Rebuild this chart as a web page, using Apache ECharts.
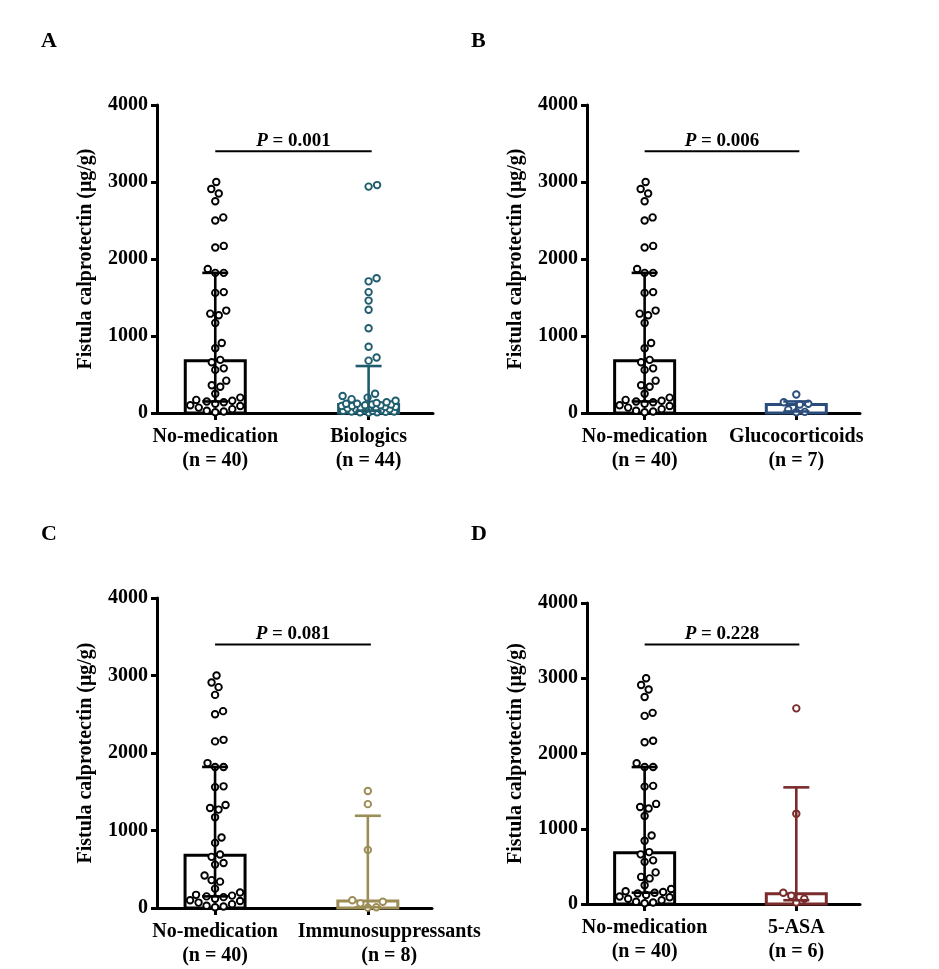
<!DOCTYPE html>
<html>
<head>
<meta charset="utf-8">
<script src="https://cdn.jsdelivr.net/npm/echarts@6.0.0/dist/echarts.min.js"></script>
<style>
  html, body { margin: 0; padding: 0; background: #fff; }
  #chart { width: 939px; height: 969px; }
</style>
</head>
<body>
<div id="chart"></div>
<script>
// fistula calprotectin values (µg/g)
var noMedication = [3000, 2910, 2850, 2750, 2540, 2500, 2170, 2150, 1870, 1820,
  1820, 1570, 1560, 1330, 1290, 1270, 1170, 910, 840, 690,
  660, 580, 560, 420, 360, 340, 250, 200, 170, 160,
  150, 140, 120, 100, 90, 70, 50, 30, 20, 10];
var biologics = [2960, 2940, 1750, 1710, 1570, 1460, 1340, 1100, 860, 720, 680,
  250, 220, 200, 180, 160, 140, 130, 120, 120, 110, 110, 100, 100, 90, 90,
  80, 80, 70, 70, 60, 60, 50, 50, 40, 40, 30, 30, 20, 20, 15, 10, 10, 5];
var glucocorticoids = [240, 140, 120, 110, 45, 15, 10];
var immunosuppressants = [1510, 1340, 750, 100, 80, 60, 10, 5];
var asa5 = [2600, 1200, 150, 110, 70, 20];

// bar = median, whisker = interquartile range  [median, q1, q3]
var noMedSummary = [680, 150, 1820];
var biologicsSummary = [110, 30, 610];
var glucoSummary = [110, 20, 150];
var immunoSummary = [90, 10, 1190];
var asaSummary = [135, 50, 1550];

var pValues = ['0.001', '0.006', '0.081', '0.228'];
var pLineY = [3400, 3400, 3400, 3450];
var yMax = 4000;

var FONT = '"Liberation Serif", "Times New Roman", serif';

var panels = [
  { letter: 'A', grid: { left: 157, top: 105, width: 276, height: 308 }, labelAt: [1, 2],
    groups: [['No-medication', noMedication, noMedSummary, '#000000'],
             ['Biologics', biologics, biologicsSummary, '#1f5d6e']] },
  { letter: 'B', grid: { left: 587, top: 105, width: 273, height: 308 }, labelAt: [1, 2],
    groups: [['No-medication', noMedication, noMedSummary, '#000000'],
             ['Glucocorticoids', glucocorticoids, glucoSummary, '#2b4d7c']] },
  // the long "Immunosuppressants" label is pushed right in the original
  { letter: 'C', grid: { left: 157, top: 598, width: 275, height: 310 }, labelAt: [1, 2.14],
    groups: [['No-medication', noMedication, noMedSummary, '#000000'],
             ['Immunosuppressants', immunosuppressants, immunoSummary, '#9c8c55']] },
  { letter: 'D', grid: { left: 587, top: 603, width: 273, height: 301 }, labelAt: [1, 2],
    groups: [['No-medication', noMedication, noMedSummary, '#000000'],
             ['5-ASA', asa5, asaSummary, '#7a2b2b']] }
];

var X_MIN = 0.62, X_MAX = 2.42;

// beeswarm: each point takes the free spot nearest the centre,
// inside the column width; if none is free, the least crowded spot
function swarm(values, center, pxPerX, pxPerY, d, maxHalf) {
  var order = values.map(function (v, i) { return i; })
    .sort(function (a, b) { return values[a] - values[b]; });
  var cands = [0];
  for (var s = 0.5; s <= maxHalf; s += 0.5) cands.push(s, -s);
  var placed = [];
  var out = [];
  order.forEach(function (i) {
    var y = values[i] * pxPerY;
    var best = null, fallback = 0, bestGap = -1;
    for (var k = 0; k < cands.length; k++) {
      var c = cands[k];
      var gap = Infinity;
      placed.forEach(function (p) {
        var dx = p.x - c, dy = p.y - y;
        gap = Math.min(gap, Math.sqrt(dx * dx + dy * dy));
      });
      if (gap >= d) { best = c; break; }
      if (gap > bestGap + 0.01) { bestGap = gap; fallback = c; }
    }
    if (best === null) best = fallback;
    placed.push({ x: best, y: y });
    out.push([center + best / pxPerX, values[i]]);
  });
  return out;
}

var grids = [], xAxes = [], yAxes = [], series = [], titles = [];

panels.forEach(function (pn, pi) {
  grids.push(pn.grid);
  var pxPerX = pn.grid.width / (X_MAX - X_MIN);
  var pxPerY = pn.grid.height / yMax;
  var colors = pn.groups.map(function (g) { return g[3]; });

  xAxes.push({
    type: 'value', gridIndex: pi, min: X_MIN, max: X_MAX,
    splitLine: { show: false },
    axisLine: { show: true, lineStyle: { color: '#000', width: 3 } },
    axisTick: { show: true, customValues: [1, 2], length: 7, lineStyle: { color: '#000', width: 3 } },
    axisLabel: {
      customValues: pn.labelAt, margin: 12, hideOverlap: false,
      formatter: function (v) {
        var g = pn.groups[v < 1.5 ? 0 : 1];
        return g[0] + '\n(n = ' + g[1].length + ')';
      },
      color: '#000', fontFamily: FONT, fontWeight: 'bold', fontSize: 20, lineHeight: 24
    }
  });

  yAxes.push({
    type: 'value', gridIndex: pi, min: 0, max: yMax, interval: 1000,
    name: 'Fistula calprotectin (μg/g)', nameLocation: 'middle', nameRotate: 90, nameGap: 61,
    nameTextStyle: { color: '#000', fontFamily: FONT, fontWeight: 'bold', fontSize: 20 },
    splitLine: { show: false },
    axisLine: { show: true, lineStyle: { color: '#000', width: 3 } },
    axisTick: { show: true, length: 6, lineStyle: { color: '#000', width: 3 } },
    axisLabel: {
      color: '#000', fontFamily: FONT, fontWeight: 'bold', fontSize: 20, margin: 9,
      formatter: function (v) { return String(v); }
    }
  });

  // bars (median)
  series.push({
    type: 'custom', xAxisIndex: pi, yAxisIndex: pi, z: 1, clip: false,
    encode: { x: 0, y: [1, 2, 3] },
    data: pn.groups.map(function (g, gi) { return [gi + 1, g[2][0], g[2][1], g[2][2]]; }),
    renderItem: function (params, api) {
      var c = colors[params.dataIndex];
      var base = api.coord([api.value(0), 0]);
      var top = api.coord([api.value(0), api.value(1)]);
      var bw = 60;
      return {
        type: 'rect',
        shape: { x: top[0] - bw / 2, y: top[1], width: bw, height: base[1] - top[1] },
        style: { fill: '#fff', stroke: c, lineWidth: 3 }
      };
    }
  });

  // points
  pn.groups.forEach(function (g, gi) {
    series.push({
      type: 'scatter', xAxisIndex: pi, yAxisIndex: pi, z: 3,
      symbol: 'circle', symbolSize: 6.5,
      itemStyle: { color: '#fff', borderColor: g[3], borderWidth: 1.9, opacity: 1 },
      data: swarm(g[1], gi + 1, pxPerX, pxPerY, 8.4, 27),
      silent: true
    });
  });

  // interquartile whiskers
  series.push({
    type: 'custom', xAxisIndex: pi, yAxisIndex: pi, z: 5, clip: false,
    encode: { x: 0, y: [1, 2, 3] },
    data: pn.groups.map(function (g, gi) { return [gi + 1, g[2][0], g[2][1], g[2][2]]; }),
    renderItem: function (params, api) {
      var c = colors[params.dataIndex];
      var lo = api.coord([api.value(0), api.value(2)]);
      var hi = api.coord([api.value(0), api.value(3)]);
      var cw = 13;
      var ls = { stroke: c, lineWidth: 2.6 };
      return {
        type: 'group',
        children: [
          { type: 'line', shape: { x1: lo[0], y1: lo[1], x2: hi[0], y2: hi[1] }, style: ls },
          { type: 'line', shape: { x1: hi[0] - cw, y1: hi[1], x2: hi[0] + cw, y2: hi[1] }, style: ls },
          { type: 'line', shape: { x1: lo[0] - cw, y1: lo[1], x2: lo[0] + cw, y2: lo[1] }, style: ls }
        ]
      };
    }
  });

  // P-value bracket
  series.push({
    type: 'custom', xAxisIndex: pi, yAxisIndex: pi, z: 6, clip: false,
    encode: { x: [0, 1], y: 2 },
    data: [[1, 2.02, pLineY[pi]]],
    renderItem: function (params, api) {
      var a = api.coord([api.value(0), api.value(2)]);
      var b = api.coord([api.value(1), api.value(2)]);
      return {
        type: 'group',
        children: [
          { type: 'line', shape: { x1: a[0], y1: a[1], x2: b[0], y2: b[1] }, style: { stroke: '#000', lineWidth: 2 } },
          { type: 'text', x: (a[0] + b[0]) / 2, y: a[1] - 1,
            style: {
              text: '{i|P} = ' + pValues[pi],
              align: 'center', verticalAlign: 'bottom',
              fill: '#000', fontFamily: FONT, fontWeight: 'bold', fontSize: 19,
              rich: { i: { fontStyle: 'italic', fontFamily: FONT, fontWeight: 'bold', fontSize: 19, fill: '#000' } }
            } }
        ]
      };
    }
  });

  titles.push({
    text: pn.letter,
    left: pn.grid.left - 121,
    top: pn.grid.top - 80,
    textStyle: { color: '#000', fontFamily: FONT, fontWeight: 'bold', fontSize: 22 }
  });
});

// panel D letter sits at the same height as C
titles[3].top = titles[2].top;

var chart = echarts.init(document.getElementById('chart'));
chart.setOption({
  backgroundColor: '#fff',
  animation: false,
  title: titles,
  grid: grids,
  xAxis: xAxes,
  yAxis: yAxes,
  series: series
});
</script>
</body>
</html>
